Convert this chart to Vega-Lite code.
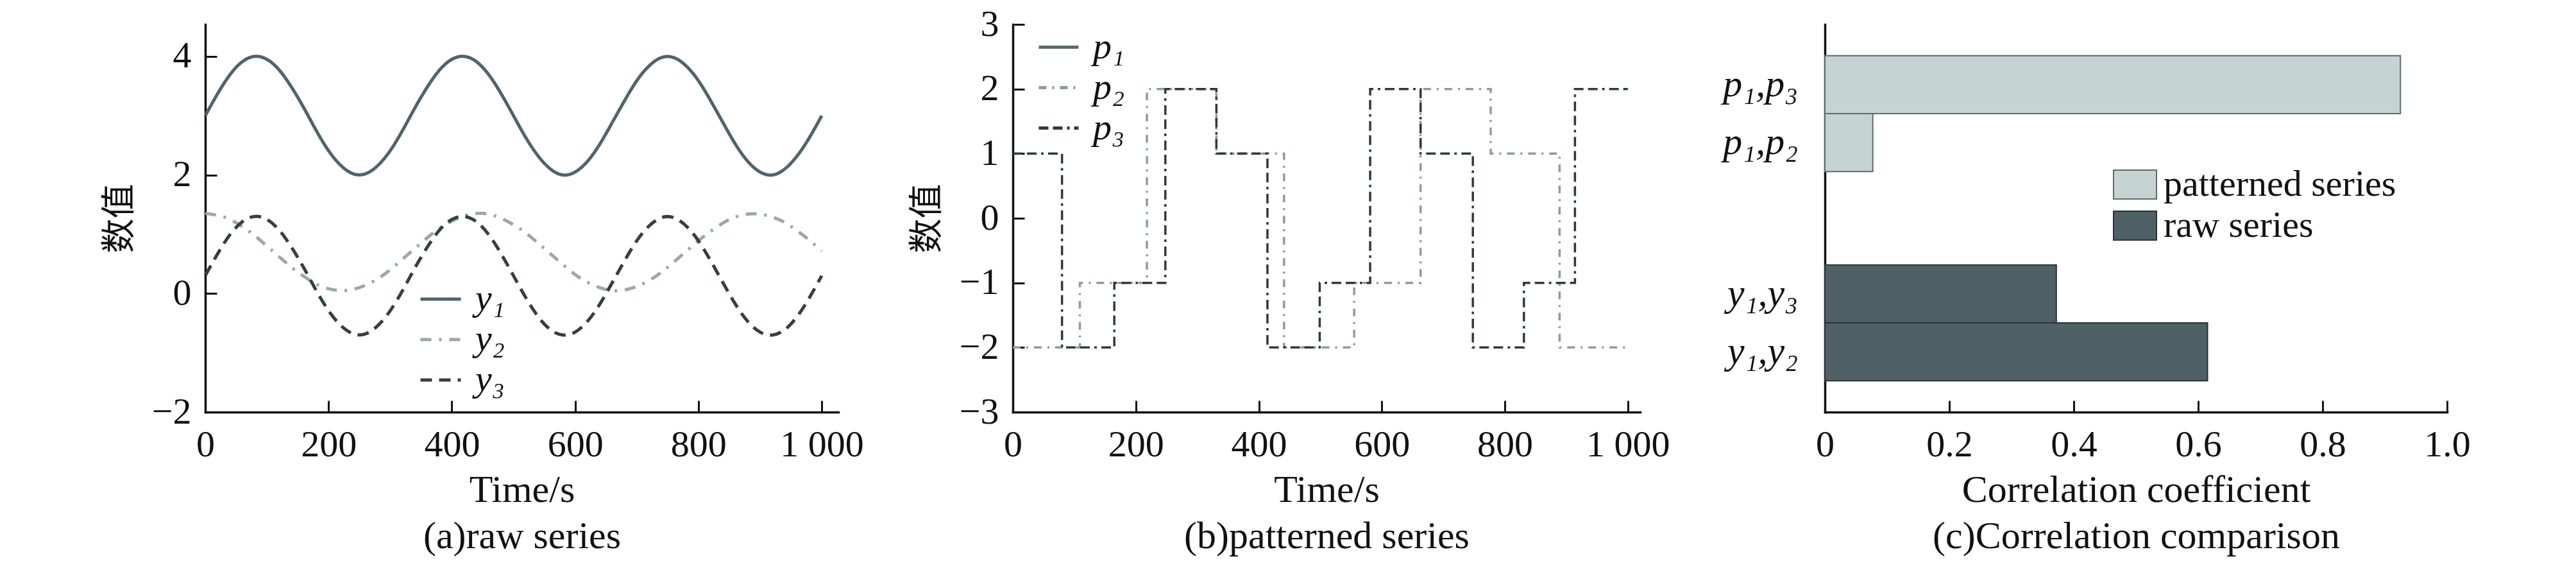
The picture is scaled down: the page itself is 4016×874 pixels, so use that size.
{
  "$schema": "https://vega.github.io/schema/vega-lite/v6.json",
  "background": "white",
  "padding": {"left": 160, "top": 9, "right": 10, "bottom": 10},
  "config": {
    "view": {"stroke": null},
    "font": "Liberation Serif",
    "axis": {
      "grid": false,
      "domainColor": "#111",
      "domainWidth": 3.5,
      "domainCap": "square",
      "tickColor": "#111",
      "tickWidth": 3,
      "tickSize": -18,
      "labelPadding": 40,
      "labelFont": "Liberation Serif",
      "labelFontSize": 58,
      "labelColor": "#111",
      "labelFlush": false,
      "labelOverlap": false,
      "titleFont": "Liberation Serif",
      "titleFontSize": 60,
      "titleFontWeight": "normal",
      "titleColor": "#111",
      "titleLineHeight": 72,
      "titlePadding": 12
    },
    "axisY": {"titleFont": "Noto Sans CJK SC", "titleFontSize": 54, "titlePadding": 22},
    "legend": {
      "labelFont": "Liberation Serif",
      "labelFontSize": 58,
      "labelColor": "#111",
      "labelLimit": 0
    }
  },
  "datasets": {
    "raw": [
      {"t": 0, "y1": 3.00, "y2": 1.35, "y3": 0.30},
      {"t": 20, "y1": 3.37, "y2": 1.32, "y3": 0.67},
      {"t": 40, "y1": 3.69, "y2": 1.25, "y3": 0.99},
      {"t": 60, "y1": 3.91, "y2": 1.13, "y3": 1.21},
      {"t": 80, "y1": 4.00, "y2": 0.98, "y3": 1.30},
      {"t": 100, "y1": 3.95, "y2": 0.80, "y3": 1.25},
      {"t": 120, "y1": 3.77, "y2": 0.62, "y3": 1.07},
      {"t": 140, "y1": 3.48, "y2": 0.44, "y3": 0.78},
      {"t": 160, "y1": 3.13, "y2": 0.29, "y3": 0.43},
      {"t": 180, "y1": 2.75, "y2": 0.16, "y3": 0.05},
      {"t": 200, "y1": 2.41, "y2": 0.08, "y3": -0.29},
      {"t": 220, "y1": 2.16, "y2": 0.05, "y3": -0.54},
      {"t": 240, "y1": 2.02, "y2": 0.07, "y3": -0.68},
      {"t": 260, "y1": 2.02, "y2": 0.14, "y3": -0.68},
      {"t": 280, "y1": 2.16, "y2": 0.25, "y3": -0.54},
      {"t": 300, "y1": 2.41, "y2": 0.40, "y3": -0.29},
      {"t": 320, "y1": 2.75, "y2": 0.58, "y3": 0.05},
      {"t": 340, "y1": 3.13, "y2": 0.76, "y3": 0.43},
      {"t": 360, "y1": 3.48, "y2": 0.94, "y3": 0.78},
      {"t": 380, "y1": 3.77, "y2": 1.10, "y3": 1.07},
      {"t": 400, "y1": 3.95, "y2": 1.22, "y3": 1.25},
      {"t": 420, "y1": 4.00, "y2": 1.31, "y3": 1.30},
      {"t": 440, "y1": 3.91, "y2": 1.35, "y3": 1.21},
      {"t": 460, "y1": 3.69, "y2": 1.34, "y3": 0.99},
      {"t": 480, "y1": 3.37, "y2": 1.27, "y3": 0.67},
      {"t": 500, "y1": 3.00, "y2": 1.16, "y3": 0.30},
      {"t": 520, "y1": 2.63, "y2": 1.02, "y3": -0.07},
      {"t": 540, "y1": 2.32, "y2": 0.85, "y3": -0.39},
      {"t": 560, "y1": 2.10, "y2": 0.67, "y3": -0.61},
      {"t": 580, "y1": 2.00, "y2": 0.49, "y3": -0.70},
      {"t": 600, "y1": 2.05, "y2": 0.32, "y3": -0.65},
      {"t": 620, "y1": 2.23, "y2": 0.19, "y3": -0.47},
      {"t": 640, "y1": 2.52, "y2": 0.10, "y3": -0.18},
      {"t": 660, "y1": 2.88, "y2": 0.05, "y3": 0.18},
      {"t": 680, "y1": 3.25, "y2": 0.06, "y3": 0.55},
      {"t": 700, "y1": 3.59, "y2": 0.12, "y3": 0.89},
      {"t": 720, "y1": 3.84, "y2": 0.22, "y3": 1.14},
      {"t": 740, "y1": 3.98, "y2": 0.36, "y3": 1.28},
      {"t": 760, "y1": 3.98, "y2": 0.53, "y3": 1.28},
      {"t": 780, "y1": 3.84, "y2": 0.71, "y3": 1.14},
      {"t": 800, "y1": 3.59, "y2": 0.89, "y3": 0.89},
      {"t": 820, "y1": 3.25, "y2": 1.05, "y3": 0.55},
      {"t": 840, "y1": 2.88, "y2": 1.19, "y3": 0.18},
      {"t": 860, "y1": 2.52, "y2": 1.29, "y3": -0.18},
      {"t": 880, "y1": 2.23, "y2": 1.34, "y3": -0.47},
      {"t": 900, "y1": 2.05, "y2": 1.34, "y3": -0.65},
      {"t": 920, "y1": 2.00, "y2": 1.29, "y3": -0.70},
      {"t": 940, "y1": 2.10, "y2": 1.20, "y3": -0.61},
      {"t": 960, "y1": 2.32, "y2": 1.06, "y3": -0.39},
      {"t": 980, "y1": 2.63, "y2": 0.90, "y3": -0.07},
      {"t": 1000, "y1": 3.00, "y2": 0.72, "y3": 0.30}
    ],
    "patterned": [
      {"s": "p₂", "t": 0, "v": -2},
      {"s": "p₂", "t": 109, "v": -1},
      {"s": "p₂", "t": 218, "v": 2},
      {"s": "p₂", "t": 331, "v": 1},
      {"s": "p₂", "t": 441, "v": -2},
      {"s": "p₂", "t": 555, "v": -1},
      {"s": "p₂", "t": 663, "v": 2},
      {"s": "p₂", "t": 777, "v": 1},
      {"s": "p₂", "t": 889, "v": -2},
      {"s": "p₂", "t": 1000, "v": -2},
      {"s": "p₃", "t": 0, "v": 1},
      {"s": "p₃", "t": 80, "v": -2},
      {"s": "p₃", "t": 165, "v": -1},
      {"s": "p₃", "t": 248, "v": 2},
      {"s": "p₃", "t": 331, "v": 1},
      {"s": "p₃", "t": 414, "v": -2},
      {"s": "p₃", "t": 499, "v": -1},
      {"s": "p₃", "t": 581, "v": 2},
      {"s": "p₃", "t": 663, "v": 1},
      {"s": "p₃", "t": 748, "v": -2},
      {"s": "p₃", "t": 831, "v": -1},
      {"s": "p₃", "t": 914, "v": 2},
      {"s": "p₃", "t": 1000, "v": 2}
    ],
    "corr": [
      {"group": "patterned series", "pair": "1,3", "label": "p₁,p₃", "r": 0.925},
      {"group": "patterned series", "pair": "1,2", "label": "p₁,p₂", "r": 0.077},
      {"group": "raw series", "pair": "1,3", "label": "y₁,y₃", "r": 0.372},
      {"group": "raw series", "pair": "1,2", "label": "y₁,y₂", "r": 0.615}
    ]
  },
  "spacing": 272,
  "bounds": "flush",
  "resolve": {
    "scale": {"color": "independent", "strokeDash": "independent", "fill": "independent", "stroke": "independent"},
    "legend": {"color": "independent", "strokeDash": "independent", "fill": "independent", "stroke": "independent"}
  },
  "hconcat": [
    {
      "width": 987,
      "height": 604,
      "data": {"name": "raw"},
      "transform": [{"fold": ["y1", "y2", "y3"], "as": ["s", "v"]}],
      "mark": {"type": "line", "interpolate": "natural", "strokeWidth": 5},
      "encoding": {
        "x": {
          "field": "t",
          "type": "quantitative",
          "scale": {"domain": [0, 1027], "nice": false},
          "axis": {
            "values": [0, 200, 400, 600, 800, 1000],
            "labelExpr": "datum.value >= 1000 ? '1 000' : datum.label",
            "title": ["Time/s", "(a)raw series"]
          }
        },
        "y": {
          "field": "v",
          "type": "quantitative",
          "scale": {"domain": [-2, 4.54], "nice": false, "zero": false},
          "axis": {"values": [-2, 0, 2, 4], "title": "数值"}
        },
        "color": {
          "field": "s",
          "type": "nominal",
          "scale": {"domain": ["y1", "y2", "y3"], "range": ["#51636a", "#9aa8ab", "#343f43"]},
          "legend": {
            "title": null, "orient": "none", "legendX": 333, "legendY": 394,
            "symbolType": "stroke", "symbolSize": 3969, "symbolStrokeWidth": 5,
            "labelFontStyle": "italic", "labelOffset": 20, "rowPadding": -7,
            "labelExpr": "datum.label == 'y1' ? 'y₁' : datum.label == 'y2' ? 'y₂' : 'y₃'"
          }
        },
        "strokeDash": {
          "field": "s",
          "type": "nominal",
          "scale": {"domain": ["y1", "y2", "y3"], "range": [[1, 0], [17, 12, 4, 12], [18, 11]]},
          "legend": {
            "title": null, "orient": "none", "legendX": 333, "legendY": 394,
            "symbolType": "stroke", "symbolSize": 3969, "symbolStrokeWidth": 5,
            "labelFontStyle": "italic", "labelOffset": 20, "rowPadding": -7,
            "labelExpr": "datum.label == 'y1' ? 'y₁' : datum.label == 'y2' ? 'y₂' : 'y₃'"
          }
        }
      }
    },
    {
      "spacing": 288,
      "bounds": "flush",
      "resolve": {
        "scale": {"color": "independent", "strokeDash": "independent", "fill": "independent", "stroke": "independent"},
        "legend": {"color": "independent", "strokeDash": "independent", "fill": "independent", "stroke": "independent"}
      },
      "hconcat": [
        {
          "width": 978,
          "height": 604,
          "data": {"name": "patterned"},
          "mark": {"type": "line", "interpolate": "step-after", "strokeWidth": 3.5},
          "encoding": {
            "x": {
              "field": "t",
              "type": "quantitative",
              "scale": {"domain": [0, 1020], "nice": false},
              "axis": {
                "values": [0, 200, 400, 600, 800, 1000],
                "labelExpr": "datum.value >= 1000 ? '1 000' : datum.label",
                "title": ["Time/s", "(b)patterned series"]
              }
            },
            "y": {
              "field": "v",
              "type": "quantitative",
              "scale": {"domain": [-3, 3], "nice": false, "zero": false},
              "axis": {"values": [-3, -2, -1, 0, 1, 2, 3], "title": "数值"}
            },
            "color": {
              "field": "s",
              "type": "nominal",
              "scale": {"domain": ["p₁", "p₂", "p₃"], "range": ["#5a6a70", "#8c9b9f", "#2f3a3e"]},
              "legend": {
                "title": null, "orient": "none", "legendX": 38, "legendY": 2,
                "symbolType": "stroke", "symbolSize": 3844, "symbolStrokeWidth": 5,
                "labelFontStyle": "italic", "labelOffset": 20, "rowPadding": -4
              }
            },
            "strokeDash": {
              "field": "s",
              "type": "nominal",
              "scale": {"domain": ["p₁", "p₂", "p₃"], "range": [[1, 0], [12, 9, 3, 9], [15, 7, 15, 7, 4, 7]]},
              "legend": {
                "title": null, "orient": "none", "legendX": 38, "legendY": 2,
                "symbolType": "stroke", "symbolSize": 3844, "symbolStrokeWidth": 5,
                "labelFontStyle": "italic", "labelOffset": 20, "rowPadding": -4
              }
            }
          }
        },
        {
          "width": 970,
          "height": 604,
          "data": {"name": "corr"},
          "encoding": {
            "y": {
              "field": "group",
              "type": "nominal",
              "scale": {"domain": ["patterned series", "raw series"], "paddingInner": 0.446, "paddingOuter": 0.15},
              "axis": {"labels": false, "ticks": false, "title": null}
            },
            "yOffset": {
              "field": "pair",
              "type": "nominal",
              "scale": {"domain": ["1,3", "1,2"], "paddingInner": 0, "paddingOuter": 0}
            }
          },
          "layer": [
            {
              "mark": {"type": "bar", "strokeWidth": 2},
              "encoding": {
                "x": {
                  "field": "r",
                  "type": "quantitative",
                  "scale": {"domain": [0, 1], "nice": false},
                  "axis": {
                    "values": [0, 0.2, 0.4, 0.6, 0.8, 1],
                    "labelExpr": "datum.value == 0 ? '0' : format(datum.value, '.1f')",
                    "title": ["Correlation coefficient", "(c)Correlation comparison"]
                  }
                },
                "fill": {
                  "field": "group",
                  "type": "nominal",
                  "scale": {"domain": ["patterned series", "raw series"], "range": ["#c5d3d2", "#4f6066"]},
                  "legend": {
                    "title": null, "orient": "none", "legendX": 449, "legendY": 215,
                    "symbolType": "M-1,-0.67H1V0.67H-1Z", "symbolSize": 4489, "symbolStrokeWidth": 2,
                    "labelOffset": 10, "rowPadding": -8
                  }
                },
                "stroke": {
                  "field": "group",
                  "type": "nominal",
                  "scale": {"domain": ["patterned series", "raw series"], "range": ["#5f6b6d", "#2a3437"]},
                  "legend": {
                    "title": null, "orient": "none", "legendX": 449, "legendY": 215,
                    "symbolType": "M-1,-0.67H1V0.67H-1Z", "symbolSize": 4489, "symbolStrokeWidth": 2,
                    "labelOffset": 10, "rowPadding": -8
                  }
                }
              }
            },
            {
              "mark": {"type": "text", "align": "right", "baseline": "middle", "dx": -42, "fontSize": 60, "fontStyle": "italic", "font": "Liberation Serif", "color": "#111"},
              "encoding": {
                "x": {"datum": 0, "type": "quantitative"},
                "text": {"field": "label"}
              }
            }
          ]
        }
      ]
    }
  ]
}
